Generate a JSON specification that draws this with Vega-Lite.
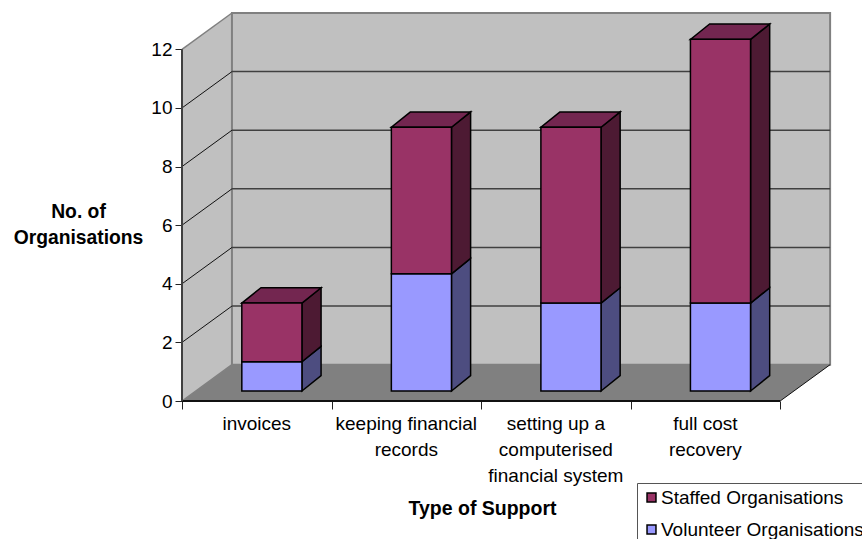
{
  "$schema": "https://vega.github.io/schema/vega-lite/v6.json",
  "width": 649,
  "height": 388,
  "autosize": "none",
  "padding": {"left": 182, "top": 13, "right": 31, "bottom": 138},
  "background": "white",
  "config": {"view": {"stroke": null}, "font": "Liberation Sans"},
  "params": [
    {"name": "wallDx", "value": 0.334},
    {"name": "wallDy", "value": 1.24},
    {"name": "barInset", "value": 0.4},
    {"name": "barWidth", "value": 0.402},
    {"name": "barLift", "value": 0.34},
    {"name": "barDx", "value": 0.128},
    {"name": "barDy", "value": 0.525}
  ],
  "data": {
    "values": [
      {"category": "invoices", "series": "Volunteer Organisations", "value": 1},
      {"category": "keeping financial\nrecords", "series": "Volunteer Organisations", "value": 4},
      {"category": "setting up a\ncomputerised\nfinancial system", "series": "Volunteer Organisations", "value": 3},
      {"category": "full cost\nrecovery", "series": "Volunteer Organisations", "value": 3},
      {"category": "invoices", "series": "Staffed Organisations", "value": 2},
      {"category": "keeping financial\nrecords", "series": "Staffed Organisations", "value": 5},
      {"category": "setting up a\ncomputerised\nfinancial system", "series": "Staffed Organisations", "value": 6},
      {"category": "full cost\nrecovery", "series": "Staffed Organisations", "value": 9}
    ]
  },
  "transform": [
    {"window": [{"op": "row_number", "as": "slot"}], "groupby": ["series"]},
    {"stack": "value", "groupby": ["category"], "sort": [{"field": "series", "order": "descending"}], "as": ["base", "total"]},
    {"calculate": "datum.slot - 1 + barInset", "as": "left"},
    {"calculate": "datum.left + barWidth", "as": "right"},
    {"calculate": "datum.base + barLift", "as": "lower"},
    {"calculate": "datum.total + barLift", "as": "upper"}
  ],
  "layer": [
    {
      "data": {"values": [{"depth": 0}, {"depth": 1}]},
      "transform": [
        {"calculate": "datum.depth * wallDx", "as": "wx"},
        {"calculate": "datum.depth * wallDy", "as": "low"},
        {"calculate": "12 + datum.depth * wallDy", "as": "high"}
      ],
      "mark": {"type": "area", "fill": "#C0C0C0"},
      "encoding": {
        "x": {
          "field": "wx", "type": "quantitative",
          "scale": {"domain": [0, 4.34], "nice": false, "zero": false},
          "axis": {
            "values": [0, 1, 2, 3, 4], "labels": false, "grid": false, "domain": false,
            "tickSize": 8, "tickColor": "#222222", "tickWidth": 1,
            "title": "Type of Support", "titleX": 300, "titleY": 107,
            "titleFontSize": 19.5, "titleFontWeight": "bold", "titleColor": "black",
            "titleBaseline": "middle", "titleAlign": "center", "titleAnchor": "start"
          }
        },
        "y": {
          "field": "low", "type": "quantitative",
          "scale": {"domain": [0, 13.24], "nice": false, "zero": false},
          "axis": {
            "values": [0, 2, 4, 6, 8, 10, 12], "grid": false, "domain": false,
            "tickSize": 7, "tickColor": "#222222", "tickWidth": 1,
            "labelFontSize": 19, "labelColor": "black", "labelPadding": 3,
            "title": ["No. of", "Organisations"], "titleAngle": 0,
            "titleX": -104, "titleY": 198, "titleAlign": "center", "titleBaseline": "middle",
            "titleFontSize": 19.3, "titleFontWeight": "bold", "titleColor": "black", "titleLineHeight": 26
          }
        },
        "y2": {"field": "high"}
      }
    },
    {
      "data": {"values": [{"depth": 0}, {"depth": 1}]},
      "transform": [
        {"calculate": "datum.depth * wallDx", "as": "near"},
        {"calculate": "4 + datum.depth * wallDx", "as": "far"},
        {"calculate": "datum.depth * wallDy", "as": "rise"}
      ],
      "mark": {"type": "area", "orient": "horizontal", "fill": "#808080"},
      "encoding": {
        "x": {"field": "near", "type": "quantitative", "axis": null},
        "x2": {"field": "far"},
        "y": {"field": "rise", "type": "quantitative", "axis": null}
      }
    },
    {
      "data": {"values": [{"depth": 1}]},
      "transform": [
        {"calculate": "wallDx", "as": "wl"},
        {"calculate": "4 + wallDx", "as": "wr"},
        {"calculate": "wallDy", "as": "wb"},
        {"calculate": "12 + wallDy", "as": "wt"}
      ],
      "mark": {"type": "rect", "fill": "#C0C0C0", "stroke": "#808080", "strokeWidth": 2},
      "encoding": {
        "x": {"field": "wl", "type": "quantitative", "axis": null},
        "x2": {"field": "wr"},
        "y": {"field": "wb", "type": "quantitative", "axis": null},
        "y2": {"field": "wt"}
      }
    },
    {
      "data": {"values": [{"tick": 2}, {"tick": 4}, {"tick": 6}, {"tick": 8}, {"tick": 10}]},
      "transform": [
        {"calculate": "wallDx", "as": "wl"},
        {"calculate": "4 + wallDx", "as": "wr"},
        {"calculate": "datum.tick + wallDy", "as": "level"}
      ],
      "mark": {"type": "rule", "stroke": "#404040", "strokeWidth": 1.5},
      "encoding": {
        "x": {"field": "wl", "type": "quantitative", "axis": null},
        "x2": {"field": "wr"},
        "y": {"field": "level", "type": "quantitative", "axis": null}
      }
    },
    {
      "data": {"values": [{"tick": 2}, {"tick": 4}, {"tick": 6}, {"tick": 8}, {"tick": 10}]},
      "transform": [
        {"calculate": "0", "as": "wl"},
        {"calculate": "wallDx", "as": "wr"},
        {"calculate": "datum.tick + wallDy", "as": "level"}
      ],
      "mark": {"type": "rule", "stroke": "#111111", "strokeWidth": 1},
      "encoding": {
        "x": {"field": "wl", "type": "quantitative", "axis": null},
        "x2": {"field": "wr"},
        "y": {"field": "tick", "type": "quantitative", "axis": null},
        "y2": {"field": "level"}
      }
    },
    {
      "data": {"values": [{"tick": 0}, {"tick": 12}]},
      "transform": [
        {"calculate": "0", "as": "wl"},
        {"calculate": "wallDx", "as": "wr"},
        {"calculate": "datum.tick + wallDy", "as": "level"}
      ],
      "mark": {"type": "rule", "stroke": "#808080", "strokeWidth": 1.5},
      "encoding": {
        "x": {"field": "wl", "type": "quantitative", "axis": null},
        "x2": {"field": "wr"},
        "y": {"field": "tick", "type": "quantitative", "axis": null},
        "y2": {"field": "level"}
      }
    },
    {
      "data": {"values": [{"from": 0}]},
      "transform": [
        {"calculate": "4", "as": "end"},
        {"calculate": "4 + wallDx", "as": "farEnd"},
        {"calculate": "wallDy", "as": "rise"}
      ],
      "mark": {"type": "rule", "stroke": "#111111", "strokeWidth": 1},
      "encoding": {
        "x": {"field": "end", "type": "quantitative", "axis": null},
        "x2": {"field": "farEnd"},
        "y": {"field": "from", "type": "quantitative", "axis": null},
        "y2": {"field": "rise"}
      }
    },
    {
      "data": {"values": [{"from": 0}]},
      "transform": [{"calculate": "4", "as": "end"}],
      "mark": {"type": "rule", "stroke": "#111111", "strokeWidth": 2},
      "encoding": {
        "x": {"field": "from", "type": "quantitative", "axis": null},
        "x2": {"field": "end"},
        "y": {"field": "from", "type": "quantitative", "axis": null}
      }
    },
    {
      "data": {"values": [{"from": 0}]},
      "transform": [{"calculate": "12", "as": "end"}],
      "mark": {"type": "rule", "stroke": "#404040", "strokeWidth": 2},
      "encoding": {
        "x": {"field": "from", "type": "quantitative", "axis": null},
        "y": {"field": "from", "type": "quantitative", "axis": null},
        "y2": {"field": "end"}
      }
    },
    {
      "transform": [
        {"calculate": "[0, 1]", "as": "t"},
        {"flatten": ["t"]},
        {"calculate": "datum.right + datum.t * barDx", "as": "sx"},
        {"calculate": "datum.lower + datum.t * barDy", "as": "sLow"},
        {"calculate": "datum.upper + datum.t * barDy", "as": "sHigh"}
      ],
      "mark": {"type": "area", "stroke": "black", "strokeWidth": 1.5},
      "encoding": {
        "x": {"field": "sx", "type": "quantitative", "axis": null},
        "y": {"field": "sLow", "type": "quantitative", "axis": null},
        "y2": {"field": "sHigh"},
        "detail": {"field": "category"},
        "color": {
          "field": "series", "type": "nominal", "legend": null,
          "scale": {"domain": ["Staffed Organisations", "Volunteer Organisations"], "range": ["#4D1A33", "#4D4D80"]}
        }
      }
    },
    {
      "transform": [
        {"filter": "datum.series === 'Staffed Organisations'"},
        {"calculate": "[0, 1]", "as": "t"},
        {"flatten": ["t"]},
        {"calculate": "datum.left + datum.t * barDx", "as": "tl"},
        {"calculate": "datum.right + datum.t * barDx", "as": "tr"},
        {"calculate": "datum.upper + datum.t * barDy", "as": "ty"}
      ],
      "mark": {"type": "area", "orient": "horizontal", "fill": "#732650", "stroke": "black", "strokeWidth": 1.5},
      "encoding": {
        "x": {"field": "tl", "type": "quantitative", "axis": null},
        "x2": {"field": "tr"},
        "y": {"field": "ty", "type": "quantitative", "axis": null},
        "detail": {"field": "category"}
      }
    },
    {
      "mark": {"type": "rect", "stroke": "black", "strokeWidth": 1.5},
      "encoding": {
        "x": {"field": "left", "type": "quantitative", "axis": null},
        "x2": {"field": "right"},
        "y": {"field": "lower", "type": "quantitative", "axis": null},
        "y2": {"field": "upper"},
        "color": {
          "field": "series", "type": "nominal",
          "scale": {"domain": ["Staffed Organisations", "Volunteer Organisations"], "range": ["#993366", "#9999FF"]},
          "legend": {
            "orient": "none", "legendX": 455, "legendY": 470, "title": null,
            "strokeColor": "#555555", "fillColor": "white", "padding": 5,
            "symbolType": "square", "symbolSize": 80, "symbolStrokeColor": "black", "symbolStrokeWidth": 1.5,
            "labelFontSize": 19, "labelColor": "black", "labelLimit": 400, "rowPadding": 12, "labelOffset": 0
          }
        }
      }
    },
    {
      "transform": [
        {"filter": "datum.series === 'Staffed Organisations'"},
        {"calculate": "datum.slot - 0.5", "as": "mid"},
        {"calculate": "0", "as": "floor"}
      ],
      "mark": {"type": "text", "lineBreak": "\n", "lineHeight": 26, "baseline": "top", "align": "center", "dy": 14, "fontSize": 19, "color": "black"},
      "encoding": {
        "x": {"field": "mid", "type": "quantitative", "axis": null},
        "y": {"field": "floor", "type": "quantitative", "axis": null},
        "text": {"field": "category"}
      }
    }
  ],
  "resolve": {
    "scale": {"color": "independent"},
    "axis": {"x": "independent", "y": "independent"}
  }
}
